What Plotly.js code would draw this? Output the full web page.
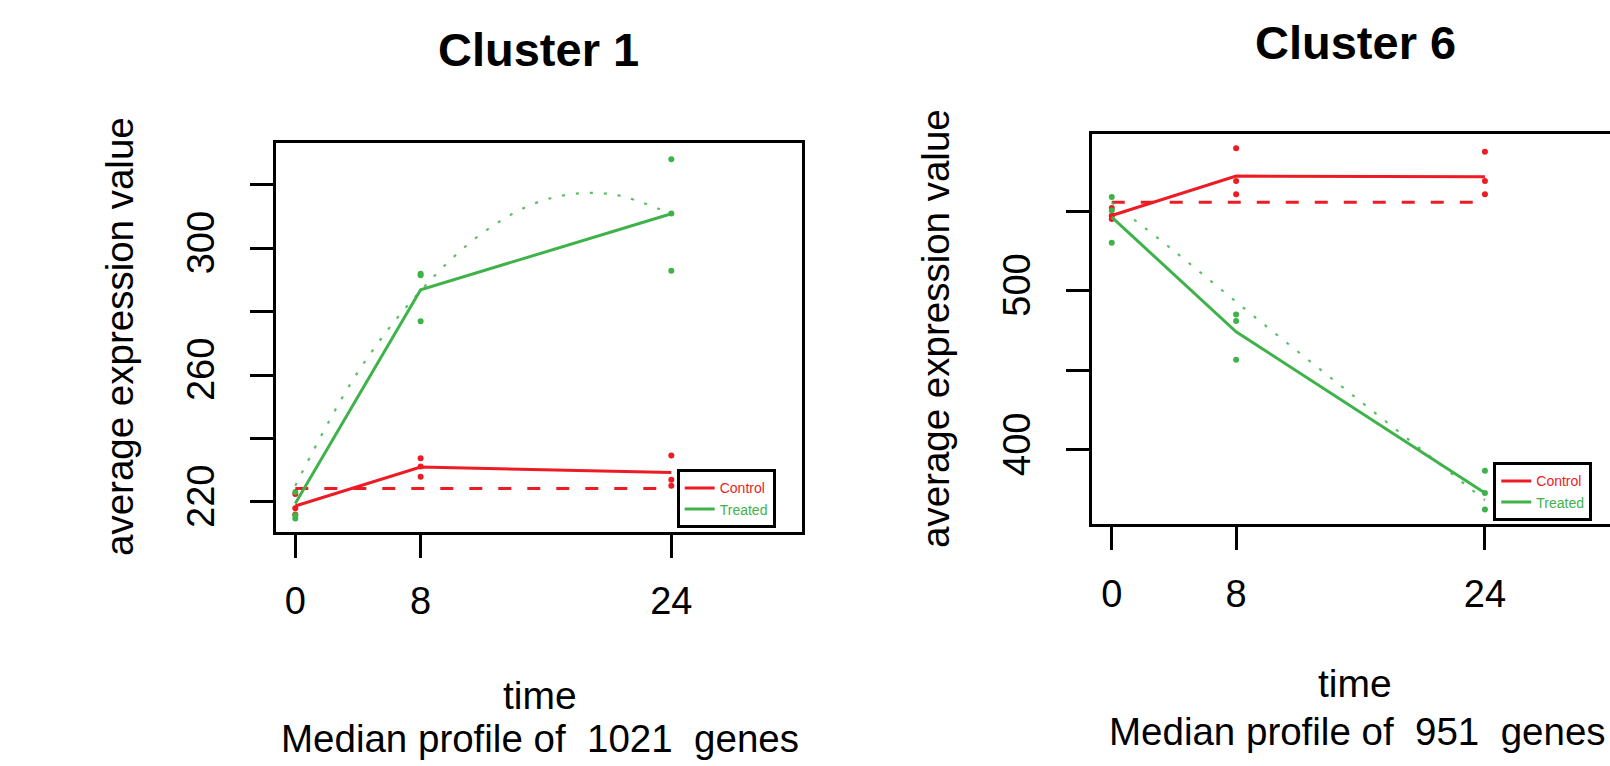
<!DOCTYPE html>
<html>
<head>
<meta charset="utf-8">
<script src="https://cdn.plot.ly/plotly-3.0.1.min.js"></script>
<style>
  html, body { margin: 0; padding: 0; background: #ffffff; overflow: hidden; }
  #chart { width: 1620px; height: 766px; }
</style>
</head>
<body>
<div id="chart"></div>
<script>
// ---------------- data ----------------
const timePoints = [0, 8, 24];
const fitTimes = [0, 4, 8, 12, 16, 20, 24];
const replicateTimes = [0, 0, 0, 8, 8, 8, 24, 24, 24];
const xTickVals = [0, 8, 24];
const xTickText = ['0', '8', '24'];

// Cluster 1
const c1YTickVals = [220, 240, 260, 280, 300, 320];
const c1YTickText = ['220', '', '260', '', '300', ''];
const c1ControlPoints = [222.5, 218.0, 216.0, 233.8, 231.2, 227.9, 234.6, 227.0, 225.1];
const c1ControlProfile = [218.7, 231.0, 229.3];
const c1ControlFit = [224.2, 224.2, 224.2];
const c1TreatedPoints = [223.1, 215.8, 214.8, 292.0, 291.5, 277.0, 328.1, 311.0, 292.9];
const c1TreatedProfile = [219.5, 286.9, 310.9];
const c1TreatedFit = [225.1, 261.0, 286.6, 305.0, 315.4, 317.2, 310.8];

// Cluster 6
const c6YTickVals = [400, 450, 500, 550];
const c6YTickText = ['400', '', '500', ''];
const c6ControlPoints = [552.0, 547.0, 545.0, 589.5, 568.9, 560.6, 587.3, 568.9, 560.6];
const c6ControlProfile = [547.2, 572.0, 571.6];
const c6ControlFit = [555.5, 555.5, 555.5];
const c6TreatedPoints = [558.9, 550.4, 530.1, 485.0, 480.9, 456.6, 386.9, 372.9, 362.6];
const c6TreatedProfile = [546.2, 474.2, 372.9];
const c6TreatedFit = [555.5, 525.0, 493.0, 461.5, 430.5, 399.5, 368.5];

const panelTitles = ['Cluster 1', 'Cluster 6'];
const geneCounts = [1021, 951];
const seriesNames = ['Control', 'Treated'];

// ---------------- styling ----------------
const W = 1620, H = 766;
const FONT = 'Liberation Sans, Arial, sans-serif';
const RED = '#ed1c24';
const GREEN = '#3fb34a';
const px = v => v / W;
const py = v => 1 - v / H;

function panelTraces(xa, ya, legendId, ctrlPts, ctrlProf, ctrlFit, trtPts, trtProf, trtFit) {
  return [
    { x: replicateTimes, y: ctrlPts, xaxis: xa, yaxis: ya, type: 'scatter', mode: 'markers',
      marker: { color: RED, size: 6 }, showlegend: false, hoverinfo: 'skip' },
    { x: replicateTimes, y: trtPts, xaxis: xa, yaxis: ya, type: 'scatter', mode: 'markers',
      marker: { color: GREEN, size: 6 }, showlegend: false, hoverinfo: 'skip' },
    { x: timePoints, y: ctrlFit, xaxis: xa, yaxis: ya, type: 'scatter', mode: 'lines',
      line: { color: RED, width: 3, dash: '13px,16px' }, showlegend: false, hoverinfo: 'skip' },
    { x: fitTimes, y: trtFit, xaxis: xa, yaxis: ya, type: 'scatter', mode: 'lines',
      line: { color: GREEN, width: 2.2, dash: '3px,11px', shape: 'spline' }, opacity: 0.85,
      showlegend: false, hoverinfo: 'skip' },
    { x: timePoints, y: ctrlProf, xaxis: xa, yaxis: ya, type: 'scatter', mode: 'lines',
      line: { color: RED, width: 3 }, name: '<span style="color:' + RED + '">' + seriesNames[0] + '</span>',
      legend: legendId, hoverinfo: 'skip' },
    { x: timePoints, y: trtProf, xaxis: xa, yaxis: ya, type: 'scatter', mode: 'lines',
      line: { color: GREEN, width: 3 }, name: '<span style="color:' + GREEN + '">' + seriesNames[1] + '</span>',
      legend: legendId, hoverinfo: 'skip' }
  ];
}

const data = [].concat(
  panelTraces('x', 'y', 'legend', c1ControlPoints, c1ControlProfile, c1ControlFit,
              c1TreatedPoints, c1TreatedProfile, c1TreatedFit),
  panelTraces('x2', 'y2', 'legend2', c6ControlPoints, c6ControlProfile, c6ControlFit,
              c6TreatedPoints, c6TreatedProfile, c6TreatedFit)
);

function xAxis(domain, anchor, range) {
  return {
    domain: domain, anchor: anchor, range: range,
    tickmode: 'array', tickvals: xTickVals, ticktext: xTickText,
    ticks: 'outside', ticklen: 23, tickwidth: 3, tickcolor: '#000',
    ticklabelstandoff: 11,
    showline: true, linewidth: 3, linecolor: '#000', mirror: true,
    showgrid: false, zeroline: false,
    tickfont: { family: FONT, size: 38, color: '#000' }
  };
}
function yAxis(domain, anchor, range, vals, text) {
  return {
    domain: domain, anchor: anchor, range: range,
    tickmode: 'array', tickvals: vals, ticktext: text,
    ticks: 'outside', ticklen: 23, tickwidth: 3, tickcolor: '#000',
    tickangle: -90, ticklabelstandoff: 21,
    showline: true, linewidth: 3, linecolor: '#000', mirror: true,
    showgrid: false, zeroline: false,
    tickfont: { family: FONT, size: 38, color: '#000' }
  };
}

const ann = [];
function txt(text, x, y, size, bold, angle) {
  ann.push({
    text: bold ? '<b>' + text + '</b>' : text,
    xref: 'paper', yref: 'paper', x: px(x), y: py(y),
    xanchor: 'center', yanchor: 'middle', showarrow: false,
    textangle: angle || 0,
    font: { family: FONT, size: size, color: '#000' }
  });
}
// left panel texts
txt(panelTitles[0], 538, 50, 47, true);
txt('average expression value', 119, 337, 38.5, false, -90);
txt('time', 540, 695, 39, false);
txt('Median profile of  ' + geneCounts[0] + '  genes', 540, 738, 38.5, false);
// right panel texts
txt(panelTitles[1], 1355, 42, 47, true);
txt('average expression value', 935, 329, 38.5, false, -90);
txt('time', 1355, 683, 39, false);
txt('Median profile of  ' + geneCounts[1] + '  genes', 1357, 731, 38.5, false);

function legendCfg(x, y) {
  return {
    x: px(x), y: py(y), xanchor: 'left', yanchor: 'top',
    bordercolor: '#000', borderwidth: 3, bgcolor: '#fff',
    font: { family: FONT, size: 14, color: '#000' },
    itemwidth: 30, tracegroupgap: 0, traceorder: 'normal'
  };
}

const layout = {
  width: W, height: H,
  margin: { l: 0, r: 0, t: 0, b: 0 },
  paper_bgcolor: '#fff', plot_bgcolor: '#fff',
  showlegend: true,
  xaxis: xAxis([px(275.7), px(802)], 'y', [-1.25, 32.34]),
  yaxis: yAxis([py(531.7), py(142.7)], 'x', [210.6, 333.3], c1YTickVals, c1YTickText),
  xaxis2: xAxis([px(1092.3), px(1617.1)], 'y2', [-1.25, 32.5]),
  yaxis2: yAxis([py(524), py(134)], 'x2', [353.5, 598.4], c6YTickVals, c6YTickText),
  legend: legendCfg(676.7, 469.3),
  legend2: legendCfg(1493.3, 462.3),
  annotations: ann
};

Plotly.newPlot('chart', data, layout, { displayModeBar: false, staticPlot: true });
</script>
</body>
</html>
